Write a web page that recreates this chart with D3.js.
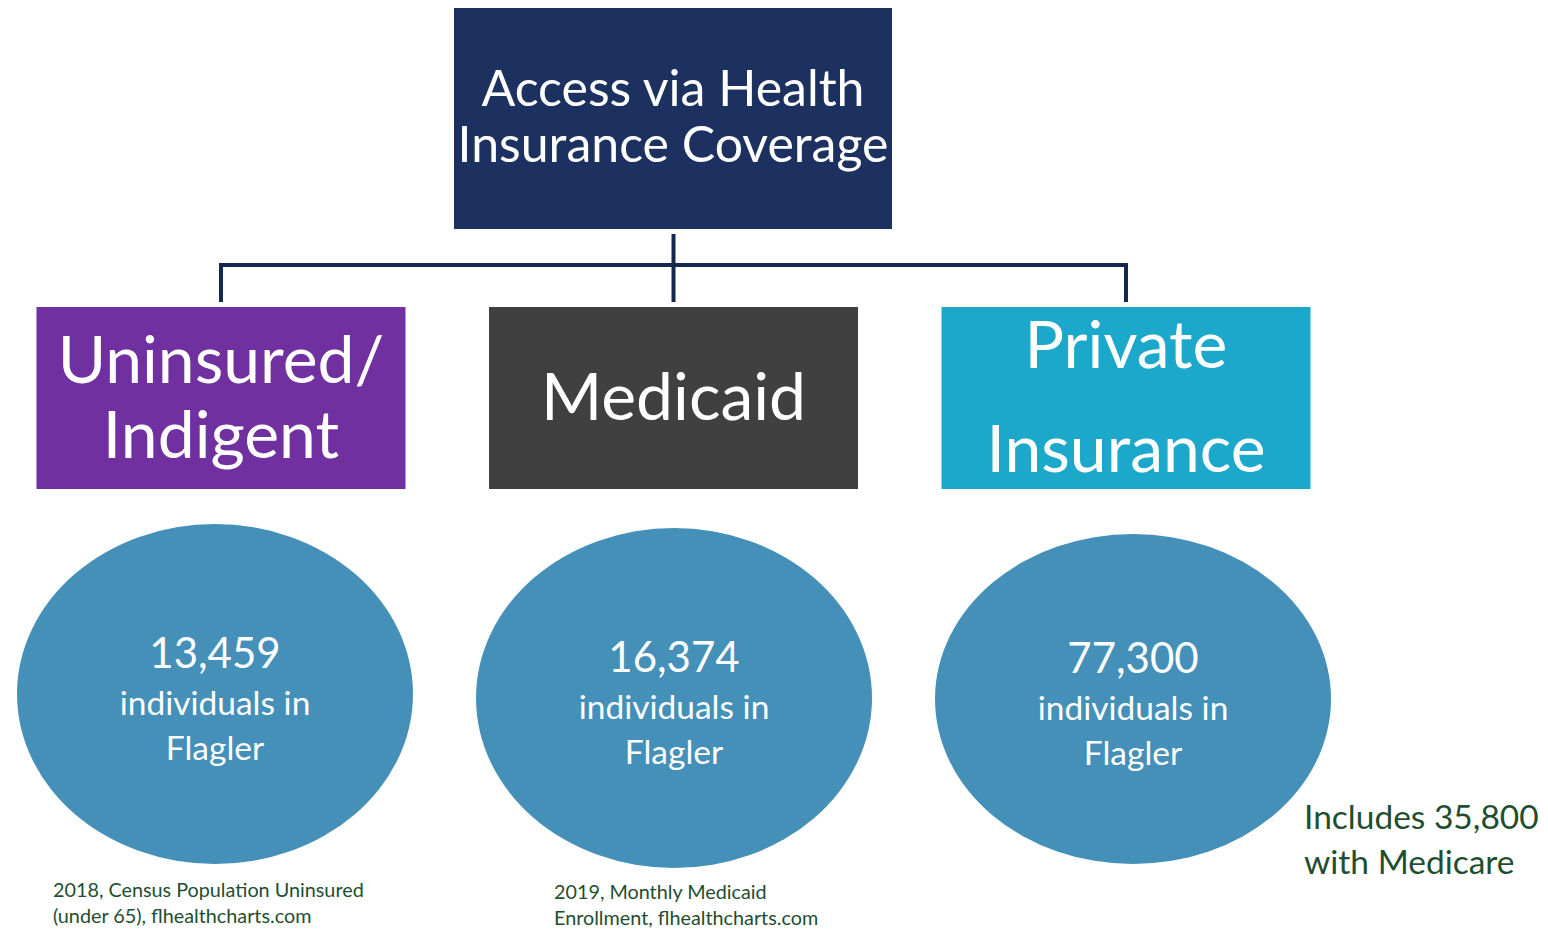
<!DOCTYPE html>
<html>
<head>
<meta charset="utf-8">
<script src="https://cdn.jsdelivr.net/npm/d3@7"></script>
<style>
  html, body { margin: 0; padding: 0; background: #fff; }
  svg { display: block; font-family: Lato, "Open Sans", sans-serif; }
</style>
</head>
<body>
<div id="graph"></div>
<script>
// data
const title = ["Access via Health", "Insurance Coverage"];
const categories = ["Uninsured/\nIndigent", "Medicaid", "Private\nInsurance"];
const boxColors = ["#7030a0", "#404040", "#1ba8cb"];
const counts = [13459, 16374, 77300];
const countLabel = ["individuals in", "Flagler"];
const sources = [
    ["2018, Census Population Uninsured", "(under 65), flhealthcharts.com"],
    ["2019, Monthly Medicaid", "Enrollment, flhealthcharts.com"],
    []
];
const note = ["Includes 35,800", "with Medicare"];

let width = 1548;
let height = 929;
let navy = "#1c3160";
let green = "#1f4e2f";

let svg = d3.select("#graph")
    .append("svg")
    .attr("width", width)
    .attr("height", height)
    .attr("viewBox", [0, 0, width, height]);

// column positions
let xBox = d3.scalePoint().domain(categories).range([221, 1126]);
let xOval = d3.scalePoint().domain(categories).range([215, 1133]);
let boxW = 369, boxTop = 307, boxH = 182;

// connectors
let lines = svg.append("g")
    .attr("stroke", "#14284f")
    .attr("stroke-width", 4)
    .attr("fill", "none");
lines.append("line")
    .attr("x1", xBox(categories[1])).attr("x2", xBox(categories[1]))
    .attr("y1", 234).attr("y2", 302);
lines.append("path")
    .attr("d", "M" + xBox(categories[0]) + ",302V265H" + xBox(categories[2]) + "V302");

// top box
svg.append("rect")
    .attr("x", 454).attr("y", 8)
    .attr("width", 438).attr("height", 221)
    .attr("fill", navy);
svg.append("text")
    .attr("x", 673)
    .attr("text-anchor", "middle")
    .attr("fill", "#fff")
    .attr("font-size", "50px")
    .selectAll("tspan")
    .data(title)
    .join("tspan")
    .attr("x", 673)
    .attr("y", (d, i) => 106 + i * 56)
    .text(d => d);

// category boxes
let cols = svg.selectAll(".col")
    .data(categories)
    .join("g")
    .attr("class", "col");

cols.append("rect")
    .attr("x", d => xBox(d) - boxW / 2)
    .attr("y", boxTop)
    .attr("width", boxW)
    .attr("height", boxH)
    .attr("fill", (d, i) => boxColors[i]);

cols.append("text")
    .attr("text-anchor", "middle")
    .attr("fill", "#fff")
    .attr("font-size", "66px")
    .each(function (d) {
        let parts = d.split("\n");
        let base = parts.length === 1 ? [420] : (d.startsWith("Private") ? [368, 472] : [383, 458]);
        d3.select(this).selectAll("tspan")
            .data(parts)
            .join("tspan")
            .attr("x", xBox(d))
            .attr("y", (p, i) => base[i])
            .text(p => p);
    });

// ovals
let ovalY = [694, 698, 699];
let ovalRy = [170, 170, 165];
cols.append("ellipse")
    .attr("cx", d => xOval(d))
    .attr("cy", (d, i) => ovalY[i])
    .attr("rx", 198)
    .attr("ry", (d, i) => ovalRy[i])
    .attr("fill", "#4590b9");

cols.append("text")
    .attr("x", d => xOval(d))
    .attr("y", (d, i) => ovalY[i] - 26)
    .attr("text-anchor", "middle")
    .attr("fill", "#fff")
    .attr("font-size", "42px")
    .text((d, i) => d3.format(",")(counts[i]));

cols.each(function (d, i) {
    d3.select(this).append("text")
        .attr("text-anchor", "middle")
        .attr("fill", "#fff")
        .attr("font-size", "33.5px")
        .selectAll("tspan")
        .data(countLabel)
        .join("tspan")
        .attr("x", xOval(d))
        .attr("y", (p, j) => ovalY[i] + 21 + j * 45)
        .text(p => p);
});

// sources
let srcX = [53, 554];
let srcY = [897, 899];
cols.each(function (d, i) {
    if (!sources[i].length) return;
    d3.select(this).append("text")
        .attr("fill", green)
        .attr("font-size", "19.8px")
        .selectAll("tspan")
        .data(sources[i])
        .join("tspan")
        .attr("x", srcX[i])
        .attr("y", (p, j) => srcY[i] + j * 26)
        .text(p => p);
});

// note
svg.append("text")
    .attr("fill", green)
    .attr("font-size", "33.5px")
    .selectAll("tspan")
    .data(note)
    .join("tspan")
    .attr("x", 1304)
    .attr("y", (p, j) => 829 + j * 45)
    .text(p => p);
</script>
</body>
</html>
